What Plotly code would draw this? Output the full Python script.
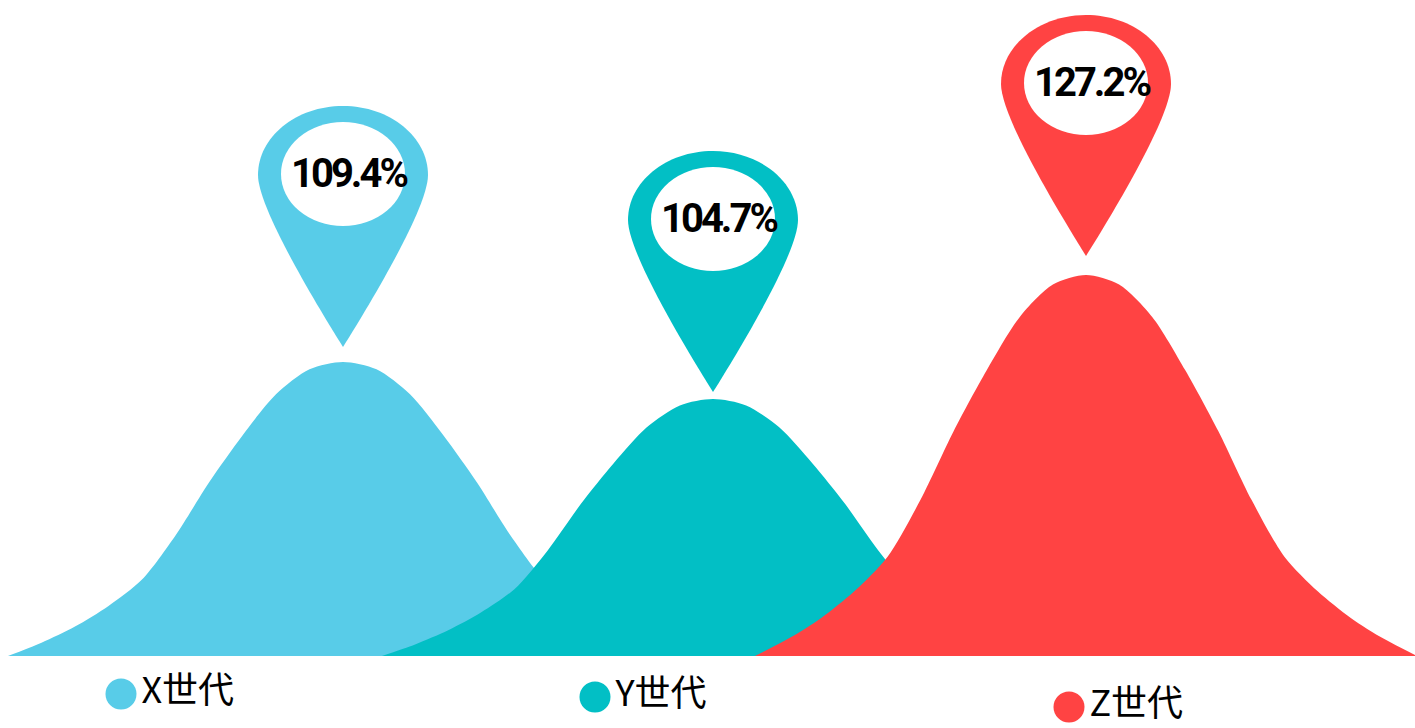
import plotly.graph_objects as go

generations = ["X世代", "Y世代", "Z世代"]
rates = ["109.4%", "104.7%", "127.2%"]
colors = ["#58CCE8", "#02BFC5", "#FF4343"]
centers = [343, 713, 1086]
half_widths = [335, 331, 331]
peak_heights = [294, 257, 381]
pin_tip_heights = [309, 264, 400]

profile_offset = [-1.0, -0.9, -0.8, -0.7, -0.6, -0.5, -0.4, -0.3, -0.2, -0.1, 0.0,
                  0.1, 0.2, 0.3, 0.4, 0.5, 0.6, 0.7, 0.8, 0.9, 1.0]
profile_height = [0.0, 0.045, 0.10, 0.17, 0.26, 0.41, 0.59, 0.75, 0.89, 0.975, 1.0,
                  0.975, 0.89, 0.75, 0.59, 0.41, 0.26, 0.17, 0.10, 0.045, 0.0]

legend_x = [121, 595, 1069]
legend_y = [-38, -41, -51]

PIN_HALF = 85
PIN_WIDEST = 172
PIN_TOP = 241
HOLE_CY = 173
HOLE_RX = 62
HOLE_RY = 52

fig = go.Figure()
for name, col, cx, hw, pk in zip(generations, colors, centers, half_widths, peak_heights):
    fig.add_trace(go.Scatter(
        x=[cx + o * hw for o in profile_offset],
        y=[pk * h for h in profile_height],
        mode="lines", line=dict(shape="spline", smoothing=0.8, width=0, color=col),
        fill="tozeroy", fillcolor=col, name=name, showlegend=False, hoverinfo="skip"))

shapes = []
annotations = []
for rate, col, cx, tip in zip(rates, colors, centers, pin_tip_heights):
    def P(dx, dy):
        return f"{cx + dx} {tip + dy}"
    path = (f"M {P(0, 0)} C {P(-30, 48)} {P(-PIN_HALF, 140)} {P(-PIN_HALF, PIN_WIDEST)} "
            f"C {P(-PIN_HALF, 210)} {P(-47, PIN_TOP)} {P(0, PIN_TOP)} "
            f"C {P(47, PIN_TOP)} {P(PIN_HALF, 210)} {P(PIN_HALF, PIN_WIDEST)} "
            f"C {P(PIN_HALF, 140)} {P(30, 48)} {P(0, 0)} Z")
    shapes.append(dict(type="path", path=path, xref="x", yref="y", fillcolor=col,
                       line=dict(width=0)))
    shapes.append(dict(type="circle", xref="x", yref="y", fillcolor="white",
                       x0=cx - HOLE_RX, x1=cx + HOLE_RX,
                       y0=tip + HOLE_CY - HOLE_RY, y1=tip + HOLE_CY + HOLE_RY,
                       line=dict(width=0)))
    annotations.append(dict(
        x=cx, y=tip + HOLE_CY, xref="x", yref="y", xshift=6, yshift=1, showarrow=False,
        text=f'<span style="letter-spacing:-3px">{rate}</span>',
        font=dict(family="Liberation Sans Narrow, Roboto", size=40, color="black", weight="bold")))

fig.add_trace(go.Scatter(
    x=legend_x, y=legend_y, mode="markers+text", text=generations,
    textposition="middle right", cliponaxis=False,
    textfont=dict(family="Noto Sans CJK SC", size=36, color="black"),
    marker=dict(size=31, color=colors), showlegend=False, hoverinfo="skip"))

fig.update_layout(
    width=1415, height=728, margin=dict(l=0, r=0, t=0, b=0),
    paper_bgcolor="white", plot_bgcolor="white",
    xaxis=dict(range=[0, 1415], visible=False, fixedrange=True),
    yaxis=dict(range=[-72, 656], visible=False, fixedrange=True),
    shapes=shapes, annotations=annotations, showlegend=False)

fig.write_html("out.html", post_script="document.body.style.margin='0';document.documentElement.style.overflow='hidden';",
               config=dict(displayModeBar=False))
